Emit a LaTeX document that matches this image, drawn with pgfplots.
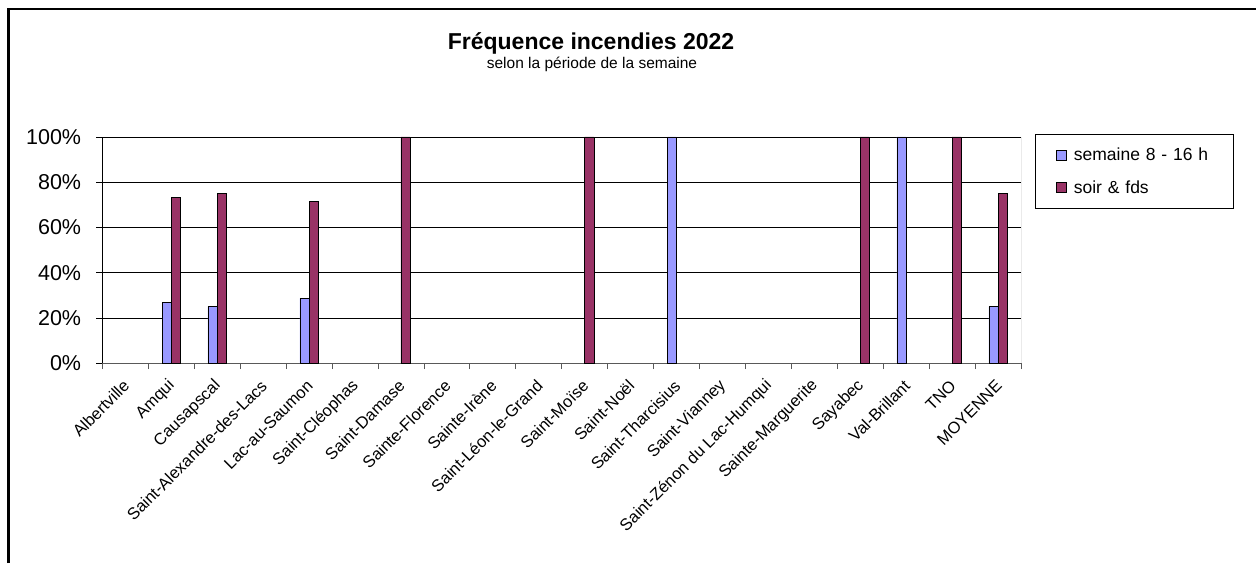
\documentclass[border=0pt]{standalone}
\usepackage{pgfplots}
\pgfplotsset{compat=1.18}
\usepackage{fontspec}
\setmainfont{Liberation Sans}
\definecolor{blueb}{HTML}{9999FF}
\definecolor{redb}{HTML}{993366}
\begin{document}
\begin{tikzpicture}[x=1pt,y=1pt]
\path[use as bounding box] (0,0) rectangle (1256,563);
\draw[line width=2.5pt] (8.7,0) -- (8.7,554) -- (1256,554);
\node[font=\fontsize{23}{27}\selectfont\bfseries] at (591,520) {Fréquence incendies 2022};
\node[font=\fontsize{15.5}{18}\selectfont] at (592,499) {selon la période de la semaine};
\begin{axis}[
  at={(102.3pt,200pt)}, anchor=south west,
  width=918.7pt, height=226pt, scale only axis,
  xmin=-0.5, xmax=19.5, ymin=0, ymax=100,
  axis x line*=bottom, axis y line*=left,
  x axis line style={draw=gray!70!black},
  y axis line style={draw=black},
  tick align=outside,
  ytick={0,20,...,100},
  yticklabel={\pgfmathprintnumber{\tick}\%},
  yticklabel style={font=\fontsize{21.5}{25}\selectfont, anchor=east, inner sep=0pt, xshift=-15pt},
  /pgf/number format/assume math mode=true,
  major tick length=6pt, minor tick length=6pt,
  ytick style={black, line width=0.6pt},
  ymajorgrids, major grid style={black, line width=0.6pt},
  xtick={0,...,19},
  major x tick style={draw=none},
  minor xtick={-0.5,0.5,...,19.5},
  minor x tick style={draw=gray!70!black, line width=0.6pt},
  xticklabels={Albertville, Amqui, Causapscal, Saint-Alexandre-des-Lacs, Lac-au-Saumon, Saint-Cléophas, Saint-Damase, Sainte-Florence, Sainte-Irène, Saint-Léon-le-Grand, Saint-Moïse, Saint-Noël, Saint-Tharcisius, Saint-Vianney, Saint-Zénon du Lac-Humqui, Sainte-Marguerite, Sayabec, Val-Brillant, TNO, MOYENNE},
  xticklabel style={font=\fontsize{16.5}{20}\selectfont, anchor=east, inner sep=0pt, xshift=1pt, yshift=-14pt, rotate=45},
  ybar=0pt, bar width=0.2,
  legend style={at={(1.0152,1.0133)}, anchor=north west, draw=black, line width=0.6pt,
    inner xsep=21pt, inner ysep=13pt, row sep=16pt, column sep=6pt,
    font=\fontsize{17.5}{20}\selectfont,
    nodes={text width=137pt, align=left, inner sep=1pt, anchor=west}},
  legend cell align=left,
  legend image code/.code={\draw[#1, draw=black, line width=0.6pt] (0pt,-5pt) rectangle (10pt,5pt);},
]
\addplot[fill=blueb, draw=black, line width=0.6pt, bar shift=-0.1] coordinates {(1,26.67) (2,25) (4,28.57) (12,100) (17,100) (19,25)};
\addlegendentry{semaine 8 - 16 h}
\addplot[fill=redb, draw=black, line width=0.6pt, bar shift=0.1] coordinates {(1,73.33) (2,75) (4,71.43) (6,100) (10,100) (16,100) (18,100) (19,75)};
\addlegendentry{soir \& fds}
\draw[gray!70!black, line width=0.6pt] (rel axis cs:1,0) -- (rel axis cs:1,1);
\end{axis}
\end{tikzpicture}
\end{document}
